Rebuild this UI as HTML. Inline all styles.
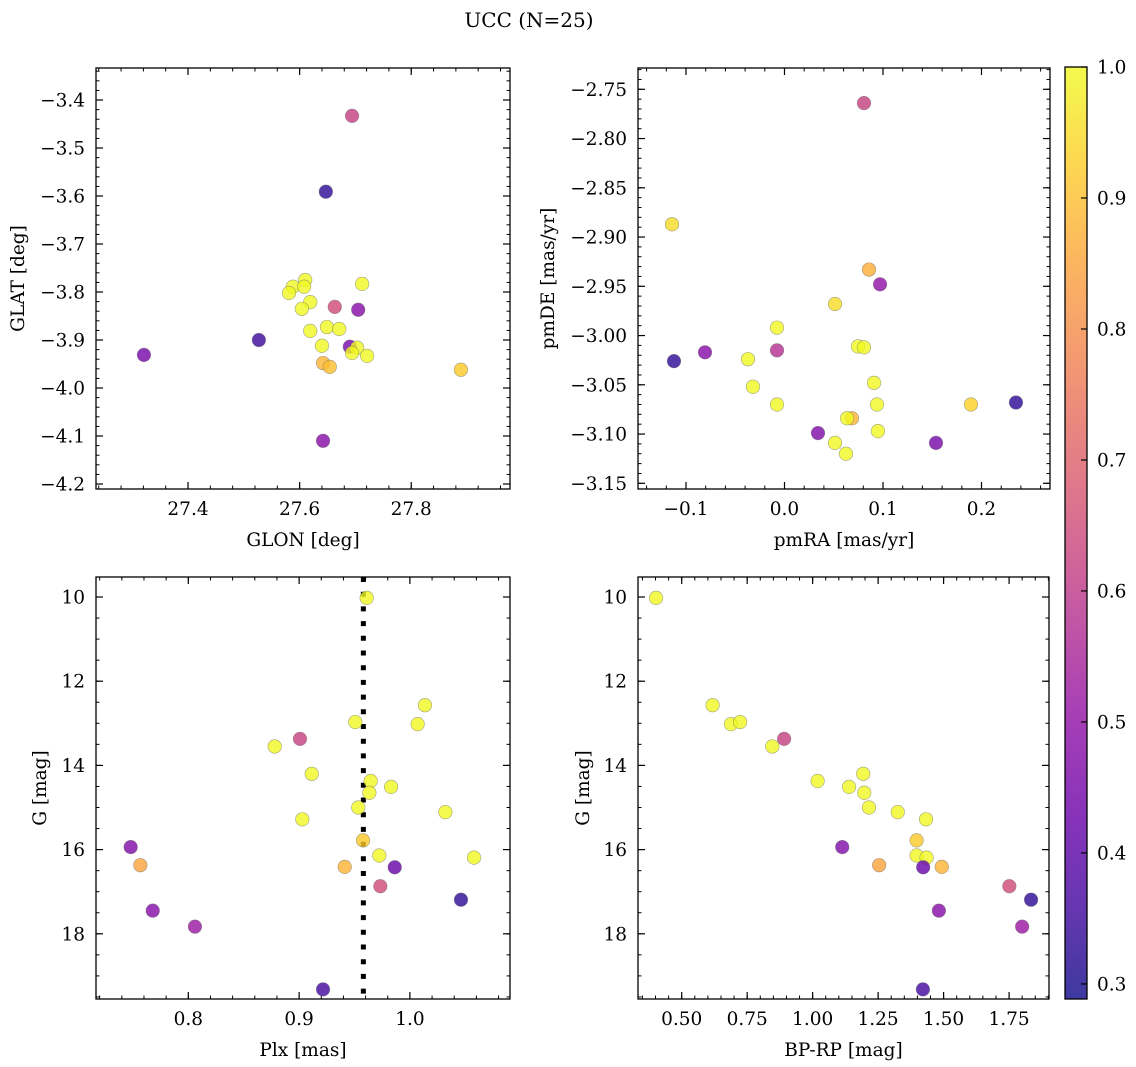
<!DOCTYPE html>
<html><head><meta charset="utf-8"><title>UCC (N=25)</title>
<style>
html,body{margin:0;padding:0;background:#fff;}
svg{display:block;font-family:"DejaVu Serif","Liberation Serif",serif;}
</style></head>
<body>
<svg id="fig" width="1136" height="1067" viewBox="0 0 1136 1067" xmlns="http://www.w3.org/2000/svg">
<defs><linearGradient id="cbgrad" x1="0" y1="1" x2="0" y2="0"></linearGradient></defs>
<text x="529" y="27" font-size="20" text-anchor="middle">UCC (N=25)</text>
</svg>
<script>
// ---- colour scale ----
const vmin = 0.2885, vmax = 1.0;
const cbTicks = [0.3, 0.4, 0.5, 0.6, 0.7, 0.8, 0.9, 1.0];

// ---- panel 1: position ----
const glon = [27.694,27.647,27.610,27.588,27.581,27.608,27.619,27.604,27.663,27.705,27.712,27.619,27.649,27.671,27.640,27.690,27.703,27.694,27.721,27.642,27.654,27.321,27.527,27.889,27.642];
const glat = [-3.433,-3.591,-3.775,-3.789,-3.802,-3.789,-3.821,-3.835,-3.831,-3.837,-3.783,-3.881,-3.873,-3.877,-3.912,-3.914,-3.916,-3.927,-3.933,-3.948,-3.956,-3.931,-3.900,-3.962,-4.110];
const probPos = [0.62,0.33,1,1,1,1,1,1,0.65,0.48,1,1,1,1,1,0.45,1,1,1,0.88,0.9,0.45,0.35,0.92,0.48];

// ---- panel 2: proper motions ----
const pmra = [0.0807,-0.1142,0.0858,0.0970,0.0513,-0.0076,-0.0076,-0.1122,-0.0807,-0.0371,-0.0320,0.0746,0.0807,0.0909,-0.0076,0.0685,0.0635,0.0939,0.0949,0.1893,0.2350,0.0340,0.0513,0.0624,0.1538];
const pmde = [-2.764,-2.887,-2.933,-2.948,-2.968,-2.992,-3.015,-3.026,-3.017,-3.024,-3.052,-3.011,-3.012,-3.048,-3.070,-3.084,-3.084,-3.070,-3.097,-3.070,-3.068,-3.099,-3.109,-3.120,-3.109];
const probPm = [0.62,0.95,0.87,0.5,0.95,1,0.58,0.33,0.48,1,1,1,1,1,1,0.88,1,1,1,0.93,0.33,0.47,1,1,0.45];

// ---- panels 3 & 4: parallax / CMD ----
const plx  = [0.961,1.0136,1.007,0.9507,0.9008,0.878,0.9114,0.9646,0.9634,0.983,0.9534,1.032,0.9029,0.9577,0.748,0.9724,1.0579,0.7567,0.9412,0.9863,0.9733,1.0461,0.7679,0.806,0.9216];
const gmag = [10.02,12.57,13.02,12.97,13.37,13.55,14.20,14.37,14.65,14.51,15.00,15.11,15.28,15.78,15.94,16.14,16.19,16.37,16.41,16.42,16.87,17.19,17.45,17.83,19.32];
const bprp = [0.402,0.618,0.688,0.723,0.891,0.846,1.193,1.019,1.197,1.139,1.215,1.325,1.433,1.397,1.113,1.397,1.435,1.254,1.493,1.422,1.751,1.834,1.482,1.800,1.421];
const probCmd = [1,1,1,1,0.62,1,1,1,1,1,1,1,1,0.92,0.47,1,1,0.85,0.88,0.42,0.65,0.33,0.48,0.52,0.36];
const plxLine = 0.958;

const NS = "http://www.w3.org/2000/svg";
const svg = document.getElementById('fig');
const PL = ["#0d0887","#41049d","#6a00a8","#8f0da4","#b12a90","#cc4778","#e16462","#f2844b","#fca636","#fcce25","#f0f921"];
function hex(h){return [parseInt(h.slice(1,3),16),parseInt(h.slice(3,5),16),parseInt(h.slice(5,7),16)];}
function plasma(t){
  t=Math.max(0,Math.min(1,t));
  const f=t*10, i=Math.min(9,Math.floor(f)), u=f-i;
  const a=hex(PL[i]), b=hex(PL[i+1]);
  return "rgb("+a.map((c,k)=>Math.round(c+(b[k]-c)*u)).join(",")+")";
}
function cmap(v){return plasma((v-vmin)/(vmax-vmin));}
function el(tag, attrs, parent){
  const e=document.createElementNS(NS,tag);
  for(const k in attrs) e.setAttribute(k,attrs[k]);
  (parent||svg).appendChild(e); return e;
}
function fmt(v,d){const s=Math.abs(v).toFixed(d); return (v<-1e-9?"\u2212":"")+s;}

function panel(opt){
  const g=el('g',{});
  
  
  const X=v=>opt.x0+(v-opt.xd[0])/(opt.xd[1]-opt.xd[0])*(opt.x1-opt.x0);
  const Y=v=>opt.y0+(v-opt.yd[0])/(opt.yd[1]-opt.yd[0])*(opt.y1-opt.y0);
  const xlo=Math.min(...opt.xd), xhi=Math.max(...opt.xd), ylo=Math.min(...opt.yd), yhi=Math.max(...opt.yd);
  function ticks(lo,hi,step){const r=[];for(let k=Math.ceil(lo/step-1e-6);k*step<=hi+1e-9;k++)r.push(k*step);return r;}
  const tg=el('g',{},g);
  
  
  ticks(xlo,xhi,opt.xminor).forEach(v=>{const x=X(v);
    el('line',{x1:x,x2:x,y1:opt.y1,y2:opt.y1-3.5,stroke:'#000','stroke-width':1},tg);
    el('line',{x1:x,x2:x,y1:opt.y0,y2:opt.y0+3.5,stroke:'#000','stroke-width':1},tg);});
  ticks(ylo,yhi,opt.yminor).forEach(v=>{const y=Y(v);
    el('line',{x1:opt.x0,x2:opt.x0+3.5,y1:y,y2:y,stroke:'#000','stroke-width':1},tg);
    el('line',{x1:opt.x1,x2:opt.x1-3.5,y1:y,y2:y,stroke:'#000','stroke-width':1},tg);});
  ticks(xlo,xhi,opt.xmajor).forEach(v=>{const x=X(v);
    el('line',{x1:x,x2:x,y1:opt.y1,y2:opt.y1-7,stroke:'#000','stroke-width':1.2},tg);
    el('line',{x1:x,x2:x,y1:opt.y0,y2:opt.y0+7,stroke:'#000','stroke-width':1.2},tg);
    const t=el('text',{x:x,y:opt.y1+26,'font-size':18.5,'text-anchor':'middle'},tg);
    
    
    t.textContent=fmt(v,opt.xdec);});
  ticks(ylo,yhi,opt.ymajor).forEach(v=>{const y=Y(v);
    el('line',{x1:opt.x0,x2:opt.x0+7,y1:y,y2:y,stroke:'#000','stroke-width':1.2},tg);
    el('line',{x1:opt.x1,x2:opt.x1-7,y1:y,y2:y,stroke:'#000','stroke-width':1.2},tg);
    const t=el('text',{x:opt.x0-11,y:y+6.5,'font-size':18.5,'text-anchor':'end'},tg);
    
    
    t.textContent=fmt(v,opt.ydec);});
  if(opt.vline!==undefined){
    const vl=el('line',{x1:X(opt.vline),x2:X(opt.vline),y1:opt.y0,y2:opt.y1,stroke:'#000','stroke-width':5,'stroke-dasharray':'5,9.7'},g);
    
    
  }
  const pg=el('g',{},g);
  
  
  opt.xs.forEach((xv,i)=>{
    const c=el('circle',{cx:X(xv),cy:Y(opt.ys[i]),r:6.8,fill:cmap(opt.cs[i]),'fill-opacity':0.8,stroke:'#6a6a6a','stroke-opacity':0.6,'stroke-width':0.6},pg);
    
    
  });
  const fr=el('rect',{x:opt.x0,y:opt.y0,width:opt.x1-opt.x0,height:opt.y1-opt.y0,fill:'none',stroke:'#000','stroke-width':1.3},g);
  
  
  const xt=el('text',{x:(opt.x0+opt.x1)/2,y:opt.y1+57,'font-size':18.5,'text-anchor':'middle'},g);
  
  
  xt.textContent=opt.xlabel;
  const cy=(opt.y0+opt.y1)/2;
  const yt=el('text',{x:opt.ylx,y:cy,'font-size':18.5,'text-anchor':'middle',transform:'rotate(-90 '+opt.ylx+' '+cy+')'},g);
  
  
  yt.textContent=opt.ylabel;
}

panel({name:'position-panel',x0:96,x1:510,y0:68,y1:489,xd:[27.2351,27.977],yd:[-3.3333,-4.2104],
  xmajor:0.2,xminor:0.04,ymajor:0.1,yminor:0.02,xdec:1,ydec:1,xs:glon,ys:glat,cs:probPos,
  xlabel:'GLON [deg]',ylabel:'GLAT [deg]',ylx:24});
panel({name:'proper-motion-panel',x0:638,x1:1050,y0:68,y1:489,xd:[-0.14873,0.26954],yd:[-2.72838,-3.15579],
  xmajor:0.1,xminor:0.02,ymajor:0.05,yminor:0.01,xdec:1,ydec:2,xs:pmra,ys:pmde,cs:probPm,
  xlabel:'pmRA [mas/yr]',ylabel:'pmDE [mas/yr]',ylx:554});
panel({name:'parallax-panel',x0:96,x1:510,y0:577,y1:999,xd:[0.7167,1.09034],yd:[9.5249,19.5487],
  xmajor:0.1,xminor:0.02,ymajor:2,yminor:0.5,xdec:1,ydec:0,xs:plx,ys:gmag,cs:probCmd,vline:plxLine,
  xlabel:'Plx [mas]',ylabel:'G [mag]',ylx:46});
panel({name:'cmd-panel',x0:638,x1:1049,y0:577,y1:999,xd:[0.33314,1.90245],yd:[9.5249,19.5487],
  xmajor:0.25,xminor:0.05,ymajor:2,yminor:0.5,xdec:2,ydec:0,xs:bprp,ys:gmag,cs:probCmd,
  xlabel:'BP-RP [mag]',ylabel:'G [mag]',ylx:589});

// colorbar
const grad=document.getElementById('cbgrad');
for(let i=0;i<=20;i++){el('stop',{offset:(i/20),'stop-color':plasma(i/20)},grad);}
const cb=el('g',{});


const cbx0=1065,cbx1=1087,cby0=67,cby1=999;
el('rect',{x:cbx0,y:cby0,width:cbx1-cbx0,height:cby1-cby0,fill:'url(#cbgrad)','fill-opacity':0.8},cb);
el('rect',{x:cbx0,y:cby0,width:cbx1-cbx0,height:cby1-cby0,fill:'none',stroke:'#000','stroke-width':1.3},cb);
const CY=v=>cby1-(v-vmin)/(vmax-vmin)*(cby1-cby0);
cbTicks.forEach(v=>{const y=CY(v);
  el('line',{x1:cbx1,x2:cbx1-6,y1:y,y2:y,stroke:'#000','stroke-width':1.2},cb);
  const t=el('text',{x:cbx1+10,y:y+6.5,'font-size':18.5},cb);
  
  
  t.textContent=v.toFixed(1);});
</script>
</body></html>
